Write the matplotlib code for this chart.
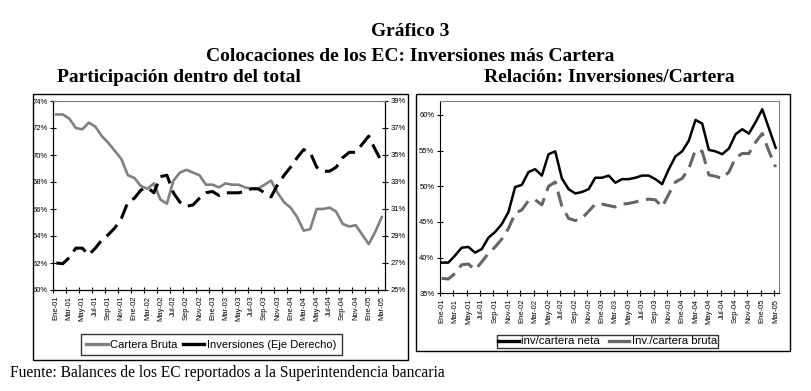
import numpy as np
import matplotlib
matplotlib.use("Agg")
import matplotlib.pyplot as plt
from matplotlib.lines import Line2D
from matplotlib.patches import Rectangle
from matplotlib.ticker import FixedLocator

# monthly labels, Ene-01 .. Mar-05 (51 months)
meses = ['Ene', 'Feb', 'Mar', 'Abr', 'May', 'Jun', 'Jul', 'Ago', 'Sep', 'Oct', 'Nov', 'Dic']
periodos = [f'{m}-{a:02d}' for a in range(1, 6) for m in meses][:51]

# left chart: share of total (%)
cartera_bruta = [73.0, 73.0, 72.7, 72.0, 71.9, 72.4, 72.1, 71.4, 70.9, 70.3,
                 69.7, 68.5, 68.3, 67.7, 67.5, 67.9, 66.7, 66.4, 68.1, 68.7,
                 68.9, 68.7, 68.5, 67.8, 67.8, 67.6, 67.9, 67.8, 67.8, 67.6,
                 67.5, 67.5, 67.8, 68.1, 67.2, 66.5, 66.1, 65.4, 64.4, 64.5,
                 66.0, 66.0, 66.1, 65.8, 64.9, 64.7, 64.8, 64.1, 63.4, 64.3, 65.4]
inversiones = [27.0, 26.95, 27.4, 28.1, 28.1, 27.6, 28.1, 28.7, 29.1, 29.6,
               30.3, 31.5, 31.8, 32.4, 32.6, 32.2, 33.4, 33.5, 32.2, 31.5,
               31.2, 31.3, 31.8, 32.2, 32.3, 32.0, 32.2, 32.2, 32.2, 32.3,
               32.5, 32.5, 32.2, 31.9, 32.8, 33.5, 34.1, 34.8, 35.4, 35.2,
               34.1, 33.8, 33.8, 34.1, 34.8, 35.2, 35.2, 35.8, 36.4, 35.4, 34.5]

# right chart: investments / loans ratio (%)
inv_cartera_neta = [39.3, 39.3, 40.3, 41.4, 41.5, 40.7, 41.2, 42.8, 43.6, 44.7,
                    46.4, 49.9, 50.2, 52.0, 52.4, 51.5, 54.5, 54.9, 51.1, 49.6,
                    49.0, 49.2, 49.6, 51.2, 51.2, 51.5, 50.5, 51.0, 51.0, 51.2,
                    51.5, 51.5, 51.0, 50.3, 52.4, 54.2, 54.9, 56.4, 59.3, 58.8,
                    55.1, 54.9, 54.5, 55.3, 57.3, 58.0, 57.4, 59.0, 60.8, 58.1, 55.4]
inv_cartera_bruta = [37.1, 37.0, 37.8, 39.0, 39.1, 38.3, 39.4, 40.6, 41.5, 42.6,
                     44.1, 46.2, 46.7, 48.0, 48.1, 47.4, 50.0, 50.6, 47.2, 45.5,
                     45.2, 45.5, 46.5, 47.5, 47.5, 47.3, 47.1, 47.5, 47.6, 47.8,
                     48.1, 48.2, 48.1, 47.1, 48.9, 50.6, 51.1, 52.5, 55.1, 54.9,
                     51.6, 51.4, 51.1, 52.0, 54.0, 54.6, 54.6, 56.2, 57.4, 54.9, 52.7]

x = np.arange(len(periodos))
GRIS = '#808080'
serif = 'Liberation Serif'
sans = 'Liberation Sans'

fig = plt.figure(figsize=(8.11, 3.91), dpi=100)

# outer boxes
fig.add_artist(Rectangle((33/811, 1-360/391), 375/811, 266/391, transform=fig.transFigure,
                         fill=False, lw=1.0, ec='black'))
fig.add_artist(Rectangle((416/811, 1-351/391), 374/811, 257/391, transform=fig.transFigure,
                         fill=False, lw=1.0, ec='black'))


def style_xaxis(ax, offset):
    ax.set_xticks(x[::2])
    ax.set_xticklabels(periodos[::2], rotation=90, fontsize=5.5, family=sans)
    ax.tick_params(axis='x', which='major', length=0, pad=4)
    ax.xaxis.set_minor_locator(FixedLocator(np.arange(offset, 51, 2)))
    ax.tick_params(axis='x', which='minor', direction='inout', length=4, width=0.8)


# left chart
ax1 = fig.add_axes([53/811, 1-290/391, 332/811, 189/391])
ax1.plot(x, cartera_bruta, color=GRIS, lw=1.9, solid_joinstyle='round')
ax1.set_xlim(-0.5, 50.5)
ax1.set_ylim(60, 74)
ax1.set_yticks(np.arange(60, 75, 2))
ax1.set_yticklabels([f'{v}%' for v in range(60, 75, 2)], fontsize=5.5, family=sans)
ax1.tick_params(axis='y', direction='inout', length=4, width=0.8, pad=2)
style_xaxis(ax1, -0.5)
ax1.spines['top'].set_color(GRIS)

ax2 = ax1.twinx()
ax2.plot(x, inversiones, color='black', lw=2.2, dashes=(5, 2.5))
ax2.set_ylim(25, 39)
ax2.set_yticks(np.arange(25, 40, 2))
ax2.set_yticklabels([f'{v}%' for v in range(25, 40, 2)], fontsize=5.5, family=sans)
ax2.tick_params(axis='y', direction='inout', length=4, width=0.8, pad=2)
ax2.spines['top'].set_color(GRIS)

h1 = [Line2D([], [], color=GRIS, lw=2.4), Line2D([], [], color='black', lw=2.4)]
leg1 = fig.legend(h1, ['Cartera Bruta', 'Inversiones (Eje Derecho)'], ncol=2,
                  loc='center', bbox_to_anchor=(211.5/811, 1-344.5/391),
                  prop={'family': sans, 'size': 8.0}, frameon=True, fancybox=False,
                  edgecolor='black', handlelength=1.9, handletextpad=0.25,
                  columnspacing=0.5, borderpad=0.5, borderaxespad=0)
leg1.get_frame().set_linewidth(1.0)

# right chart
ax3 = fig.add_axes([440/811, 1-293.3/391, 339/811, 192.6/391])
ax3.plot(x, inv_cartera_neta, color='black', lw=1.8)
ax3.plot(x, inv_cartera_bruta, color='#666666', lw=2.2, dashes=(5, 2.5))
ax3.set_xlim(-0.25, 50.5)
ax3.set_ylim(35, 62)
ax3.set_yticks(np.arange(35, 61, 5))
ax3.set_yticklabels([f'{v}%' for v in range(35, 61, 5)], fontsize=5.5, family=sans)
ax3.tick_params(axis='y', direction='inout', length=4, width=0.8, pad=2)
style_xaxis(ax3, -0.25)
ax3.spines['top'].set_color(GRIS)
ax3.spines['right'].set_color(GRIS)

h2 = [Line2D([], [], color='black', lw=2.4), Line2D([], [], color='#666666', lw=2.4)]
leg2 = fig.legend(h2, ['inv/cartera neta', 'Inv./cartera bruta'], ncol=2,
                  loc='center', bbox_to_anchor=(607.5/811, 1-341.5/391),
                  prop={'family': sans, 'size': 8.2}, frameon=True, fancybox=False,
                  edgecolor='black', handlelength=1.8, handletextpad=0.2,
                  columnspacing=0.8, borderpad=0.1, borderaxespad=0)
leg2.get_frame().set_linewidth(1.0)

# titles
fig.text(410/811, 1-31.5/391, 'Gráfico 3', ha='center', va='center',
         family=serif, weight='bold', fontsize=14)
fig.text(410/811, 1-56.5/391, 'Colocaciones de los EC: Inversiones más Cartera',
         ha='center', va='center', family=serif, weight='bold', fontsize=14)
fig.text(57/811, 1-78/391, 'Participación dentro del total', ha='left', va='center',
         family=serif, weight='bold', fontsize=14)
fig.text(484/811, 1-78/391, 'Relación: Inversiones/Cartera', ha='left', va='center',
         family=serif, weight='bold', fontsize=14)
fig.text(10/811, 1-373/391, 'Fuente: Balances de los EC reportados a la Superintendencia bancaria',
         ha='left', va='center', family=serif, fontsize=11.2)

fig.savefig('out.png', dpi=100)
